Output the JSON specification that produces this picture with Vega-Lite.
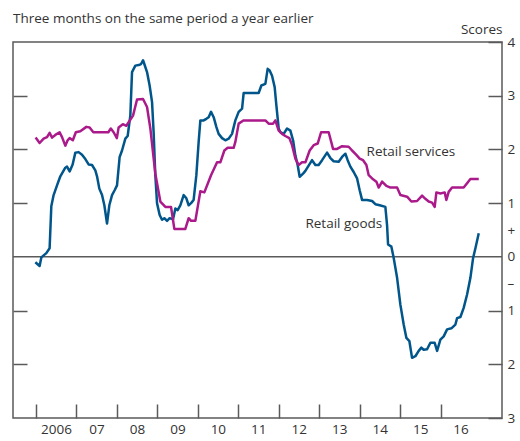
{
  "$schema": "https://vega.github.io/schema/vega-lite/v6.json",
  "width": 489,
  "height": 376,
  "autosize": "none",
  "padding": {"left": 13, "top": 42, "right": 18, "bottom": 23},
  "background": "white",
  "title": {"text": "Three months on the same period a year earlier", "anchor": "start", "frame": "group", "font": "Open Sans", "fontSize": 13.5, "fontWeight": "normal", "color": "#333333", "baseline": "alphabetic", "offset": 0, "dy": 14},
  "config": {
    "view": {"stroke": "#5a5a5a", "strokeWidth": 1.5},
    "axis": {"domain": false, "grid": false, "labelFont": "Open Sans", "labelFontSize": 13.5, "labelColor": "#333333", "titleFont": "Open Sans", "titleFontSize": 13.5, "titleFontWeight": "normal", "titleColor": "#333333", "tickColor": "#5a5a5a", "tickWidth": 1.5}
  },
  "datasets": {
    "series": [
      {"series":"Retail goods","year":2005.983,"value":-0.10},
      {"series":"Retail goods","year":2006.089,"value":-0.17},
      {"series":"Retail goods","year":2006.131,"value":-0.01},
      {"series":"Retail goods","year":2006.255,"value":0.07},
      {"series":"Retail goods","year":2006.336,"value":0.16},
      {"series":"Retail goods","year":2006.378,"value":0.94},
      {"series":"Retail goods","year":2006.435,"value":1.15},
      {"series":"Retail goods","year":2006.519,"value":1.33},
      {"series":"Retail goods","year":2006.601,"value":1.50},
      {"series":"Retail goods","year":2006.724,"value":1.66},
      {"series":"Retail goods","year":2006.766,"value":1.68},
      {"series":"Retail goods","year":2006.831,"value":1.59},
      {"series":"Retail goods","year":2006.905,"value":1.72},
      {"series":"Retail goods","year":2006.972,"value":1.94},
      {"series":"Retail goods","year":2007.053,"value":1.95},
      {"series":"Retail goods","year":2007.137,"value":1.90},
      {"series":"Retail goods","year":2007.219,"value":1.82},
      {"series":"Retail goods","year":2007.300,"value":1.72},
      {"series":"Retail goods","year":2007.384,"value":1.71},
      {"series":"Retail goods","year":2007.466,"value":1.61},
      {"series":"Retail goods","year":2007.508,"value":1.50},
      {"series":"Retail goods","year":2007.565,"value":1.27},
      {"series":"Retail goods","year":2007.632,"value":1.15},
      {"series":"Retail goods","year":2007.689,"value":0.96},
      {"series":"Retail goods","year":2007.755,"value":0.62},
      {"series":"Retail goods","year":2007.812,"value":0.96},
      {"series":"Retail goods","year":2007.879,"value":1.15},
      {"series":"Retail goods","year":2007.943,"value":1.24},
      {"series":"Retail goods","year":2008.002,"value":1.33},
      {"series":"Retail goods","year":2008.067,"value":1.86},
      {"series":"Retail goods","year":2008.126,"value":1.98},
      {"series":"Retail goods","year":2008.208,"value":2.20},
      {"series":"Retail goods","year":2008.265,"value":2.25},
      {"series":"Retail goods","year":2008.331,"value":2.63},
      {"series":"Retail goods","year":2008.373,"value":3.44},
      {"series":"Retail goods","year":2008.455,"value":3.56},
      {"series":"Retail goods","year":2008.536,"value":3.57},
      {"series":"Retail goods","year":2008.596,"value":3.59},
      {"series":"Retail goods","year":2008.645,"value":3.66},
      {"series":"Retail goods","year":2008.677,"value":3.59},
      {"series":"Retail goods","year":2008.744,"value":3.44},
      {"series":"Retail goods","year":2008.808,"value":3.19},
      {"series":"Retail goods","year":2008.868,"value":2.88},
      {"series":"Retail goods","year":2008.907,"value":2.32},
      {"series":"Retail goods","year":2008.949,"value":1.52},
      {"series":"Retail goods","year":2008.991,"value":1.00},
      {"series":"Retail goods","year":2009.056,"value":0.78},
      {"series":"Retail goods","year":2009.115,"value":0.69},
      {"series":"Retail goods","year":2009.172,"value":0.72},
      {"series":"Retail goods","year":2009.239,"value":0.67},
      {"series":"Retail goods","year":2009.303,"value":0.72},
      {"series":"Retail goods","year":2009.387,"value":0.70},
      {"series":"Retail goods","year":2009.444,"value":0.90},
      {"series":"Retail goods","year":2009.501,"value":0.87},
      {"series":"Retail goods","year":2009.567,"value":0.96},
      {"series":"Retail goods","year":2009.649,"value":1.15},
      {"series":"Retail goods","year":2009.716,"value":1.09},
      {"series":"Retail goods","year":2009.773,"value":0.96},
      {"series":"Retail goods","year":2009.832,"value":1.00},
      {"series":"Retail goods","year":2009.896,"value":1.06},
      {"series":"Retail goods","year":2009.963,"value":1.52},
      {"series":"Retail goods","year":2010.020,"value":2.14},
      {"series":"Retail goods","year":2010.062,"value":2.54},
      {"series":"Retail goods","year":2010.143,"value":2.54},
      {"series":"Retail goods","year":2010.210,"value":2.57},
      {"series":"Retail goods","year":2010.267,"value":2.60},
      {"series":"Retail goods","year":2010.326,"value":2.70},
      {"series":"Retail goods","year":2010.391,"value":2.60},
      {"series":"Retail goods","year":2010.457,"value":2.42},
      {"series":"Retail goods","year":2010.514,"value":2.29},
      {"series":"Retail goods","year":2010.598,"value":2.21},
      {"series":"Retail goods","year":2010.680,"value":2.17},
      {"series":"Retail goods","year":2010.761,"value":2.20},
      {"series":"Retail goods","year":2010.845,"value":2.29},
      {"series":"Retail goods","year":2010.927,"value":2.54},
      {"series":"Retail goods","year":2011.009,"value":2.70},
      {"series":"Retail goods","year":2011.093,"value":2.76},
      {"series":"Retail goods","year":2011.132,"value":3.05},
      {"series":"Retail goods","year":2011.298,"value":3.05},
      {"series":"Retail goods","year":2011.503,"value":3.05},
      {"series":"Retail goods","year":2011.570,"value":3.19},
      {"series":"Retail goods","year":2011.669,"value":3.22},
      {"series":"Retail goods","year":2011.726,"value":3.50},
      {"series":"Retail goods","year":2011.775,"value":3.47},
      {"series":"Retail goods","year":2011.834,"value":3.37},
      {"series":"Retail goods","year":2011.899,"value":3.16},
      {"series":"Retail goods","year":2011.941,"value":2.82},
      {"series":"Retail goods","year":2011.998,"value":2.39},
      {"series":"Retail goods","year":2012.040,"value":2.32},
      {"series":"Retail goods","year":2012.121,"value":2.29},
      {"series":"Retail goods","year":2012.205,"value":2.39},
      {"series":"Retail goods","year":2012.287,"value":2.35},
      {"series":"Retail goods","year":2012.354,"value":2.17},
      {"series":"Retail goods","year":2012.410,"value":1.89},
      {"series":"Retail goods","year":2012.467,"value":1.71},
      {"series":"Retail goods","year":2012.517,"value":1.49},
      {"series":"Retail goods","year":2012.601,"value":1.55},
      {"series":"Retail goods","year":2012.658,"value":1.60},
      {"series":"Retail goods","year":2012.823,"value":1.80},
      {"series":"Retail goods","year":2012.905,"value":1.71},
      {"series":"Retail goods","year":2012.986,"value":1.71},
      {"series":"Retail goods","year":2013.071,"value":1.80},
      {"series":"Retail goods","year":2013.194,"value":1.94},
      {"series":"Retail goods","year":2013.276,"value":1.84},
      {"series":"Retail goods","year":2013.357,"value":1.78},
      {"series":"Retail goods","year":2013.481,"value":1.77},
      {"series":"Retail goods","year":2013.565,"value":1.86},
      {"series":"Retail goods","year":2013.647,"value":1.92},
      {"series":"Retail goods","year":2013.703,"value":1.80},
      {"series":"Retail goods","year":2013.770,"value":1.68},
      {"series":"Retail goods","year":2013.852,"value":1.58},
      {"series":"Retail goods","year":2013.936,"value":1.46},
      {"series":"Retail goods","year":2014.000,"value":1.24},
      {"series":"Retail goods","year":2014.059,"value":1.06},
      {"series":"Retail goods","year":2014.183,"value":1.06},
      {"series":"Retail goods","year":2014.307,"value":1.04},
      {"series":"Retail goods","year":2014.388,"value":0.98},
      {"series":"Retail goods","year":2014.495,"value":0.96},
      {"series":"Retail goods","year":2014.635,"value":0.93},
      {"series":"Retail goods","year":2014.677,"value":0.59},
      {"series":"Retail goods","year":2014.702,"value":0.23},
      {"series":"Retail goods","year":2014.784,"value":0.19},
      {"series":"Retail goods","year":2014.841,"value":-0.02},
      {"series":"Retail goods","year":2014.925,"value":-0.39},
      {"series":"Retail goods","year":2015.006,"value":-0.89},
      {"series":"Retail goods","year":2015.088,"value":-1.26},
      {"series":"Retail goods","year":2015.155,"value":-1.51},
      {"series":"Retail goods","year":2015.229,"value":-1.57},
      {"series":"Retail goods","year":2015.295,"value":-1.88},
      {"series":"Retail goods","year":2015.377,"value":-1.85},
      {"series":"Retail goods","year":2015.459,"value":-1.75},
      {"series":"Retail goods","year":2015.525,"value":-1.69},
      {"series":"Retail goods","year":2015.582,"value":-1.73},
      {"series":"Retail goods","year":2015.666,"value":-1.72},
      {"series":"Retail goods","year":2015.748,"value":-1.60},
      {"series":"Retail goods","year":2015.854,"value":-1.60},
      {"series":"Retail goods","year":2015.914,"value":-1.75},
      {"series":"Retail goods","year":2015.995,"value":-1.54},
      {"series":"Retail goods","year":2016.077,"value":-1.48},
      {"series":"Retail goods","year":2016.161,"value":-1.35},
      {"series":"Retail goods","year":2016.267,"value":-1.33},
      {"series":"Retail goods","year":2016.366,"value":-1.26},
      {"series":"Retail goods","year":2016.408,"value":-1.14},
      {"series":"Retail goods","year":2016.490,"value":-1.12},
      {"series":"Retail goods","year":2016.571,"value":-0.95},
      {"series":"Retail goods","year":2016.655,"value":-0.70},
      {"series":"Retail goods","year":2016.737,"value":-0.39},
      {"series":"Retail goods","year":2016.804,"value":-0.02},
      {"series":"Retail goods","year":2016.861,"value":0.16},
      {"series":"Retail goods","year":2016.943,"value":0.44},
      {"series":"Retail services","year":2005.990,"value":2.22},
      {"series":"Retail services","year":2006.089,"value":2.12},
      {"series":"Retail services","year":2006.188,"value":2.20},
      {"series":"Retail services","year":2006.272,"value":2.23},
      {"series":"Retail services","year":2006.336,"value":2.31},
      {"series":"Retail services","year":2006.396,"value":2.22},
      {"series":"Retail services","year":2006.477,"value":2.27},
      {"series":"Retail services","year":2006.583,"value":2.32},
      {"series":"Retail services","year":2006.643,"value":2.23},
      {"series":"Retail services","year":2006.724,"value":2.07},
      {"series":"Retail services","year":2006.781,"value":2.17},
      {"series":"Retail services","year":2006.831,"value":2.21},
      {"series":"Retail services","year":2006.910,"value":2.17},
      {"series":"Retail services","year":2006.984,"value":2.32},
      {"series":"Retail services","year":2007.095,"value":2.34},
      {"series":"Retail services","year":2007.244,"value":2.42},
      {"series":"Retail services","year":2007.325,"value":2.41},
      {"series":"Retail services","year":2007.417,"value":2.32},
      {"series":"Retail services","year":2007.787,"value":2.32},
      {"series":"Retail services","year":2007.849,"value":2.39},
      {"series":"Retail services","year":2007.918,"value":2.32},
      {"series":"Retail services","year":2007.998,"value":2.21},
      {"series":"Retail services","year":2008.042,"value":2.41},
      {"series":"Retail services","year":2008.146,"value":2.47},
      {"series":"Retail services","year":2008.232,"value":2.44},
      {"series":"Retail services","year":2008.398,"value":2.63},
      {"series":"Retail services","year":2008.497,"value":2.93},
      {"series":"Retail services","year":2008.645,"value":2.94},
      {"series":"Retail services","year":2008.744,"value":2.79},
      {"series":"Retail services","year":2008.826,"value":2.39},
      {"series":"Retail services","year":2008.949,"value":1.55},
      {"series":"Retail services","year":2009.073,"value":1.03},
      {"series":"Retail services","year":2009.197,"value":0.93},
      {"series":"Retail services","year":2009.337,"value":0.93},
      {"series":"Retail services","year":2009.419,"value":0.52},
      {"series":"Retail services","year":2009.691,"value":0.52},
      {"series":"Retail services","year":2009.773,"value":0.72},
      {"series":"Retail services","year":2009.832,"value":0.67},
      {"series":"Retail services","year":2009.938,"value":0.67},
      {"series":"Retail services","year":2010.062,"value":1.22},
      {"series":"Retail services","year":2010.161,"value":1.20},
      {"series":"Retail services","year":2010.326,"value":1.52},
      {"series":"Retail services","year":2010.475,"value":1.76},
      {"series":"Retail services","year":2010.556,"value":1.76},
      {"series":"Retail services","year":2010.655,"value":1.98},
      {"series":"Retail services","year":2010.737,"value":2.03},
      {"series":"Retail services","year":2010.885,"value":2.03},
      {"series":"Retail services","year":2010.927,"value":2.14},
      {"series":"Retail services","year":2011.009,"value":2.48},
      {"series":"Retail services","year":2011.125,"value":2.54},
      {"series":"Retail services","year":2011.669,"value":2.54},
      {"series":"Retail services","year":2011.750,"value":2.48},
      {"series":"Retail services","year":2011.859,"value":2.48},
      {"series":"Retail services","year":2011.916,"value":2.54},
      {"series":"Retail services","year":2011.998,"value":2.35},
      {"series":"Retail services","year":2012.082,"value":2.29},
      {"series":"Retail services","year":2012.163,"value":2.25},
      {"series":"Retail services","year":2012.262,"value":2.21},
      {"series":"Retail services","year":2012.329,"value":2.08},
      {"series":"Retail services","year":2012.410,"value":1.83},
      {"series":"Retail services","year":2012.492,"value":1.71},
      {"series":"Retail services","year":2012.576,"value":1.76},
      {"series":"Retail services","year":2012.658,"value":1.76},
      {"series":"Retail services","year":2012.764,"value":1.98},
      {"series":"Retail services","year":2012.863,"value":2.08},
      {"series":"Retail services","year":2012.962,"value":2.11},
      {"series":"Retail services","year":2013.046,"value":2.32},
      {"series":"Retail services","year":2013.234,"value":2.32},
      {"series":"Retail services","year":2013.342,"value":2.01},
      {"series":"Retail services","year":2013.441,"value":2.01},
      {"series":"Retail services","year":2013.565,"value":2.06},
      {"series":"Retail services","year":2013.728,"value":2.05},
      {"series":"Retail services","year":2013.812,"value":1.98},
      {"series":"Retail services","year":2013.918,"value":1.90},
      {"series":"Retail services","year":2014.000,"value":1.83},
      {"series":"Retail services","year":2014.084,"value":1.80},
      {"series":"Retail services","year":2014.166,"value":1.71},
      {"series":"Retail services","year":2014.223,"value":1.52},
      {"series":"Retail services","year":2014.307,"value":1.46},
      {"series":"Retail services","year":2014.413,"value":1.40},
      {"series":"Retail services","year":2014.470,"value":1.29},
      {"series":"Retail services","year":2014.554,"value":1.40},
      {"series":"Retail services","year":2014.660,"value":1.32},
      {"series":"Retail services","year":2014.759,"value":1.29},
      {"series":"Retail services","year":2014.925,"value":1.29},
      {"series":"Retail services","year":2015.006,"value":1.15},
      {"series":"Retail services","year":2015.172,"value":1.12},
      {"series":"Retail services","year":2015.278,"value":1.03},
      {"series":"Retail services","year":2015.419,"value":1.04},
      {"series":"Retail services","year":2015.543,"value":1.14},
      {"series":"Retail services","year":2015.624,"value":1.08},
      {"series":"Retail services","year":2015.706,"value":1.03},
      {"series":"Retail services","year":2015.790,"value":1.01},
      {"series":"Retail services","year":2015.854,"value":0.93},
      {"series":"Retail services","year":2015.896,"value":1.20},
      {"series":"Retail services","year":2015.995,"value":1.18},
      {"series":"Retail services","year":2016.101,"value":1.20},
      {"series":"Retail services","year":2016.143,"value":1.06},
      {"series":"Retail services","year":2016.200,"value":1.21},
      {"series":"Retail services","year":2016.284,"value":1.29},
      {"series":"Retail services","year":2016.408,"value":1.29},
      {"series":"Retail services","year":2016.571,"value":1.29},
      {"series":"Retail services","year":2016.655,"value":1.37},
      {"series":"Retail services","year":2016.737,"value":1.45},
      {"series":"Retail services","year":2016.943,"value":1.45}
    ],
    "labels": [
      {"label": "Retail services", "year": 2014.17, "value": 1.96},
      {"label": "Retail goods", "year": 2012.66, "value": 0.62}
    ]
  },
  "resolve": {"axis": {"y": "independent"}},
  "layer": [
    {
      "data": {"values": [{"value": 0}]},
      "mark": {"type": "rule", "color": "#5a5a5a", "strokeWidth": 1.5},
      "encoding": {
        "y": {"field": "value", "type": "quantitative", "scale": {"domain": [-3, 4], "nice": false, "zero": false},
          "axis": {"orient": "left", "values": [-2, -1, 1, 2, 3], "labels": false, "tickSize": -14, "title": null}}
      }
    },
    {
      "data": {"name": "series"},
      "mark": {"type": "line", "strokeWidth": 2.5, "strokeJoin": "round"},
      "encoding": {
        "x": {"field": "year", "type": "quantitative", "scale": {"domain": [2005.431, 2017.518], "nice": false, "zero": false},
          "axis": {"orient": "bottom", "values": [2006, 2007, 2008, 2009, 2010, 2011, 2012, 2013, 2014, 2015, 2016], "tickSize": -14, "labelPadding": 18, "labelOffset": 20, "labelBaseline": "top", "labelExpr": "datum.value == 2006 ? '2006' : substring(toString(datum.value), 2)", "title": null}},
        "y": {"field": "value", "type": "quantitative", "scale": {"domain": [-3, 4], "nice": false, "zero": false},
          "axis": {"orient": "right", "values": [4, 3, 2, 1, 0.5, 0, -0.5, -1, -2, -3], "tickSize": -14, "labelPadding": 19,
            "tickColor": {"condition": {"test": "datum.value == 0.5 || datum.value == -0.5 || datum.value == 0", "value": "transparent"}, "value": "#5a5a5a"},
            "labelExpr": "datum.value == 0.5 ? '+' : datum.value == -0.5 ? '–' : format(abs(datum.value), 'd')",
            "title": "Scores", "titleAngle": 0, "titleAlign": "right", "titleBaseline": "alphabetic", "titleX": 0, "titleY": -9}},
        "color": {"field": "series", "type": "nominal", "scale": {"domain": ["Retail goods", "Retail services"], "range": ["#00558b", "#ab1a8b"]}, "legend": null}
      }
    },
    {
      "data": {"name": "labels"},
      "mark": {"type": "text", "align": "left", "baseline": "middle", "font": "Open Sans", "fontSize": 13.5, "color": "#333333"},
      "encoding": {
        "x": {"field": "year", "type": "quantitative"},
        "y": {"field": "value", "type": "quantitative", "axis": null},
        "text": {"field": "label"}
      }
    }
  ]
}
